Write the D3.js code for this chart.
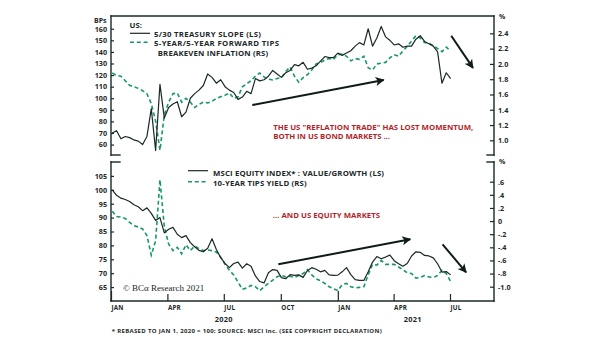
<!DOCTYPE html>
<html>
<head>
<meta charset="utf-8">
<script src="https://cdn.jsdelivr.net/npm/d3@7"></script>
<style>
  html, body { margin: 0; padding: 0; background: #fff; }
  .container { width: 605px; height: 341px; }
  text { font-family: "Open Sans", sans-serif; font-weight: 700; }
</style>
</head>
<body>
<div class="container"></div>
<script>
// weekly observations (Fridays) starting Jan 3, 2020
const firstWeek = "2020-01-03";

// US 5/30 treasury slope, bps (left scale, top panel)
const slope530 = [
  70, 72, 65, 67, 66, 64, 63, 60, 67, 91,
  55, 112, 83, 92, 95, 97, 84, 88, 100, 104,
  107, 111, 121, 118, 113, 116, 110, 107, 105, 99,
  101, 106, 104, 117, 115, 116, 119, 124, 121, 118,
  122, 124, 129, 128, 131, 125, 126, 128, 132, 136,
  135, 135, 139, 137, 139, 141, 145, 148, 146, 160,
  145, 152, 162, 153, 150, 146, 147, 144, 145, 145,
  151, 154, 149, 147, 145, 140, 113, 122, 117
];

// 5-year/5-year forward TIPS breakeven inflation, % (right scale, top panel)
const breakeven5y5y = [
  1.88, 1.85, 1.84, 1.78, 1.72, 1.70, 1.68, 1.65, 1.61, 1.48,
  1.25, 0.87, 1.33, 1.50, 1.61, 1.62, 1.50, 1.55, 1.50, 1.43,
  1.47, 1.50, 1.49, 1.51, 1.55, 1.57, 1.59, 1.62, 1.55, 1.57,
  1.70, 1.74, 1.78, 1.84, 1.88, 1.83, 1.80, 1.79, 1.81, 1.82,
  1.90, 1.96, 1.84, 1.76, 1.82, 1.86, 1.92, 2.00, 2.02, 2.05,
  2.07, 2.06, 2.12, 2.13, 2.10, 2.04, 2.07, 2.06, 2.10, 1.95,
  1.92, 2.00, 2.01, 2.02, 2.08, 2.12, 2.10, 2.17, 2.23, 2.30,
  2.37, 2.34, 2.28, 2.27, 2.24, 2.20, 2.16, 2.22, 2.17
];

// MSCI value/growth, rebased to 100 (left scale, bottom panel)
const valueGrowth = [
  100, 98, 97, 96.5, 95.8, 94.6, 93.9, 92.5, 93.5, 91.5,
  89, 90, 84.5, 85.8, 86.5, 84, 82.8, 83.5, 81, 79.5,
  78.2, 77.7, 79, 82.4, 78.5, 75.6, 73.5, 72, 73.5, 74,
  71.8, 73.4, 72.5, 69, 67, 66.5, 70.2, 71.3, 71, 68.4,
  68, 69.5, 69.2, 69.4, 68.5, 71, 72, 71.4, 70.5, 71,
  69.4, 69.2, 69.3, 70.5, 72, 69.5, 67.7, 67.4, 67.4, 70.5,
  74, 76, 75.2, 75.8, 76.5, 74.5, 73.4, 72.5, 73.5, 76.2,
  77.7, 77.5, 76.4, 76.2, 75.5, 73.4, 70.4, 70.6, 69.4
];

// 10-year TIPS yield, % (right scale, bottom panel)
const tipsYield10y = [
  0.15, 0.07, 0.06, 0.04, -0.02, -0.07, -0.09, -0.12, -0.22, -0.52,
  -0.30, 0.63, -0.08, -0.35, -0.45, -0.40, -0.50, -0.36, -0.45, -0.38,
  -0.42, -0.45, -0.44, -0.45, -0.47, -0.55, -0.66, -0.75, -0.82, -0.93,
  -1.04, -1.02, -0.98, -1.00, -1.06, -1.00, -0.95, -0.90, -0.85, -0.83,
  -0.85, -0.84, -0.86, -0.83, -0.80, -0.74, -0.82, -0.88, -0.91, -0.95,
  -1.00, -1.03, -1.06, -0.97, -0.95, -1.00, -1.02, -1.01, -1.00, -0.82,
  -0.66, -0.67, -0.60, -0.66, -0.66, -0.66, -0.70, -0.74, -0.79, -0.80,
  -0.87, -0.86, -0.83, -0.85, -0.86, -0.83, -0.75, -0.80, -0.92
];

// axis ticks
const topLeftTicks = [60, 70, 80, 90, 100, 110, 120, 130, 140, 150, 160];
const topRightTicks = [1.0, 1.2, 1.4, 1.6, 1.8, 2.0, 2.2, 2.4];
const bottomLeftTicks = [65, 70, 75, 80, 85, 90, 95, 100, 105];
const bottomRightTicks = [-1.0, -0.8, -0.6, -0.4, -0.2, 0, 0.2, 0.4, 0.6];
const bottomRightLabels = ["-1.0", "-.8", "-.6", "-.4", "-.2", "0", ".2", ".4", ".6"];
const monthTicks = ["2020-01-01", "2020-04-01", "2020-07-01", "2020-10-01", "2021-01-01", "2021-04-01", "2021-07-01"];
const monthLabels = ["JAN", "APR", "JUL", "OCT", "JAN", "APR", "JUL"];
const yearLabels = [["2020", "2020-07-01"], ["2021", "2021-05-02"]];

main();

function main() {
  const container = document.querySelector(".container");

  const width = 605;
  const height = 341;
  const frame = { left: 111, right: 494, top1: 16, bottom1: 155, top2: 162, bottom2: 301 };

  const ink = "#1b2828";
  const green = "#17976a";
  const red = "#b31f2b";

  const parse = d3.utcParse("%Y-%m-%d");
  const start = parse(firstWeek);
  const dates = d3.utcFriday.range(start, d3.utcDay.offset(start, 7 * slope530.length)).slice(0, slope530.length);

  const svg = d3
    .create("svg")
    .attr("viewBox", [0, 0, width, height])
    .attr("width", width)
    .attr("height", height)
    .style("display", "block")
    .style("background", "#fff");

  const x = d3
    .scaleUtc()
    .domain([parse("2020-01-01"), parse("2021-09-10")])
    .range([frame.left, frame.right]);

  const yTopL = d3.scaleLinear().domain([51, 171]).range([frame.bottom1, frame.top1]);
  const yTopR = d3.scaleLinear().domain([0.808, 2.627]).range([frame.bottom1, frame.top1]);
  const yBotL = d3.scaleLinear().domain([60, 110]).range([frame.bottom2, frame.top2]);
  const yBotR = d3.scaleLinear().domain([-1.218, 0.9]).range([frame.bottom2, frame.top2]);

  const defs = svg.append("defs");
  defs.append("clipPath").attr("id", "clip-top")
    .append("rect")
    .attr("x", frame.left).attr("y", frame.top1)
    .attr("width", frame.right - frame.left).attr("height", frame.bottom1 - frame.top1);
  defs.append("clipPath").attr("id", "clip-bottom")
    .append("rect")
    .attr("x", frame.left).attr("y", frame.top2)
    .attr("width", frame.right - frame.left).attr("height", frame.bottom2 - frame.top2);
  defs.append("marker")
    .attr("id", "head")
    .attr("markerUnits", "userSpaceOnUse")
    .attr("viewBox", "0 0 10 10")
    .attr("refX", 9).attr("refY", 5)
    .attr("markerWidth", 10).attr("markerHeight", 9)
    .attr("orient", "auto")
    .append("path")
    .attr("d", "M0,0 L10,5 L0,10 L2.5,5 Z")
    .attr("fill", "#0f1a1a");

  // frame lines
  const frameLines = [
    [frame.left, frame.top1, frame.right, frame.top1],
    [frame.left, frame.top1, frame.left, frame.bottom1],
    [frame.right, frame.top1, frame.right, frame.bottom1],
    [frame.left, frame.bottom1, frame.left + 9, frame.bottom1],
    [frame.right - 7, frame.bottom1, frame.right, frame.bottom1],
    [frame.left, frame.top2, frame.left + 9, frame.top2],
    [frame.right - 7, frame.top2, frame.right, frame.top2],
    [frame.left, frame.top2, frame.left, frame.bottom2],
    [frame.right, frame.top2, frame.right, frame.bottom2],
    [frame.left, frame.bottom2, frame.right, frame.bottom2],
  ];
  svg.append("g")
    .selectAll("line")
    .data(frameLines)
    .join("line")
    .attr("x1", (d) => d[0]).attr("y1", (d) => d[1])
    .attr("x2", (d) => d[2]).attr("y2", (d) => d[3])
    .attr("stroke", ink)
    .attr("stroke-width", 1.4)
    .attr("stroke-linecap", "square");

  function styleAxis(g) {
    g.select(".domain").remove();
    g.selectAll(".tick line").attr("stroke", ink).attr("stroke-width", 1.2);
    g.selectAll(".tick text")
      .attr("fill", ink)
      .style("font-family", "'Open Sans', sans-serif")
      .style("font-weight", 700)
      .style("font-size", "7.2px");
  }

  svg.append("g")
    .attr("transform", `translate(${frame.left},0)`)
    .call(d3.axisLeft(yTopL).tickValues(topLeftTicks).tickSize(-3).tickPadding(4))
    .call(styleAxis);

  svg.append("g")
    .attr("transform", `translate(${frame.right},0)`)
    .call(d3.axisRight(yTopR).tickValues(topRightTicks).tickFormat(d3.format(".1f")).tickSize(-4).tickPadding(4))
    .call(styleAxis);

  svg.append("g")
    .attr("transform", `translate(${frame.left},0)`)
    .call(d3.axisLeft(yBotL).tickValues(bottomLeftTicks).tickSize(-3).tickPadding(4))
    .call(styleAxis);

  svg.append("g")
    .attr("transform", `translate(${frame.right},0)`)
    .call(d3.axisRight(yBotR).tickValues(bottomRightTicks)
      .tickFormat((d, i) => bottomRightLabels[i]).tickSize(-4).tickPadding(4))
    .call(styleAxis);

  // time axis: ticks point up into the plot, labels start at the tick
  const xAxisG = svg.append("g")
    .attr("transform", `translate(0,${frame.bottom2})`)
    .call(d3.axisBottom(x).tickValues(monthTicks.map(parse))
      .tickFormat((d, i) => monthLabels[i]).tickSize(-7).tickPadding(5))
    .call(styleAxis);
  xAxisG.selectAll(".tick text")
    .attr("text-anchor", "start")
    .style("font-size", "6.3px")
    .style("letter-spacing", "0.2px");
  xAxisG.selectAll(".tick line")
    .attr("y2", (d) => (d.getUTCMonth() === 0 ? -10 : -7));

  svg.append("g")
    .selectAll("text")
    .data(yearLabels)
    .join("text")
    .attr("x", (d) => x(parse(d[1])))
    .attr("y", 321.8)
    .attr("text-anchor", "middle")
    .attr("fill", ink)
    .style("font-size", "7.4px")
    .style("letter-spacing", "0.3px")
    .text((d) => d[0]);

  // unit labels
  const units = [["BPs", 94, 22.6], ["%", 499, 18.6], ["%", 499, 164.4]];
  svg.append("g")
    .selectAll("text")
    .data(units)
    .join("text")
    .attr("x", (d) => d[1]).attr("y", (d) => d[2])
    .attr("fill", ink)
    .style("font-size", "7px")
    .text((d) => d[0]);

  // series
  const lineOf = (y) => d3.line().x((d, i) => x(dates[i])).y((d) => y(d));

  const topPlot = svg.append("g").attr("clip-path", "url(#clip-top)");
  topPlot.append("path")
    .datum(breakeven5y5y)
    .attr("d", lineOf(yTopR))
    .attr("fill", "none")
    .attr("stroke", green)
    .attr("stroke-width", 1.6)
    .attr("stroke-dasharray", "4,2.8");
  topPlot.append("path")
    .datum(slope530)
    .attr("d", lineOf(yTopL))
    .attr("fill", "none")
    .attr("stroke", ink)
    .attr("stroke-width", 1.2)
    .attr("stroke-linejoin", "round");

  const botPlot = svg.append("g").attr("clip-path", "url(#clip-bottom)");
  botPlot.append("path")
    .datum(tipsYield10y)
    .attr("d", lineOf(yBotR))
    .attr("fill", "none")
    .attr("stroke", green)
    .attr("stroke-width", 1.6)
    .attr("stroke-dasharray", "4,2.8");
  botPlot.append("path")
    .datum(valueGrowth)
    .attr("d", lineOf(yBotL))
    .attr("fill", "none")
    .attr("stroke", ink)
    .attr("stroke-width", 1.2)
    .attr("stroke-linejoin", "round");

  // legends
  function legendKey(x0, y0, dashed) {
    svg.append("line")
      .attr("x1", x0).attr("x2", x0 + 20)
      .attr("y1", y0).attr("y2", y0)
      .attr("stroke", dashed ? green : ink)
      .attr("stroke-width", dashed ? 1.6 : 1.2)
      .attr("stroke-dasharray", dashed ? "4,2.8" : null);
  }
  // wide caps lettering: spacing stretched to the set run length
  function label(x0, y0, str, color, size, run) {
    const t = svg.append("text")
      .attr("x", x0).attr("y", y0)
      .attr("fill", color)
      .style("font-size", size + "px")
      .text(str);
    if (run) t.attr("textLength", run).attr("lengthAdjust", "spacing");
    return t;
  }

  label(129.5, 27.8, "US:", ink, 7.8);
  legendKey(130, 33.3, false);
  label(154, 36.9, "5/30 TREASURY SLOPE (LS)", ink, 7.8, 107);
  legendKey(130, 42.3, true);
  label(154, 46.2, "5-YEAR/5-YEAR FORWARD TIPS", ink, 7.8, 125);
  label(157.7, 56.2, "BREAKEVEN INFLATION (RS)", ink, 7.8, 110.5);

  legendKey(188, 170.7, false);
  label(213, 175.6, "MSCI EQUITY INDEX* : VALUE/GROWTH (LS)", ink, 7.8, 171);
  legendKey(188, 181.7, true);
  label(213, 186.3, "10-YEAR TIPS YIELD (RS)", ink, 7.8, 93.7);

  label(273.3, 129.6, "THE US \"REFLATION TRADE\" HAS LOST MOMENTUM,", red, 7.8, 200);
  label(273.3, 139.4, "BOTH IN US BOND MARKETS ...", red, 7.8, 116.7);
  label(272.7, 217.8, "... AND US EQUITY MARKETS", red, 7.8, 107.3);

  svg.append("text")
    .attr("x", 123).attr("y", 291)
    .attr("fill", ink)
    .style("font-family", "'Liberation Serif', 'DejaVu Serif', serif")
    .style("font-weight", 400)
    .style("font-size", "9px")
    .text("© BCα Research 2021");

  label(111.7, 332.8, "* REBASED TO JAN 1, 2020 = 100; SOURCE: MSCI Inc. (SEE COPYRIGHT DECLARATION)", ink, 6, 270);

  // trend arrows, anchored in date / value space
  const arrows = [
    { from: ["2020-08-16", 94.1], to: ["2021-03-16", 115.8], y: yTopL },
    { from: ["2021-07-03", 153.9], to: ["2021-08-07", 126.2], y: yTopL },
    { from: ["2020-09-27", 73.2], to: ["2021-04-28", 82.2], y: yBotL },
    { from: ["2021-06-19", 80.4], to: ["2021-07-27", 70.3], y: yBotL },
  ];
  svg.append("g")
    .selectAll("line")
    .data(arrows)
    .join("line")
    .attr("x1", (d) => x(parse(d.from[0])))
    .attr("y1", (d) => d.y(d.from[1]))
    .attr("x2", (d) => x(parse(d.to[0])))
    .attr("y2", (d) => d.y(d.to[1]))
    .attr("stroke", "#0f1a1a")
    .attr("stroke-width", 2)
    .attr("marker-end", "url(#head)");

  container.append(svg.node());
}
</script>
</body>
</html>
